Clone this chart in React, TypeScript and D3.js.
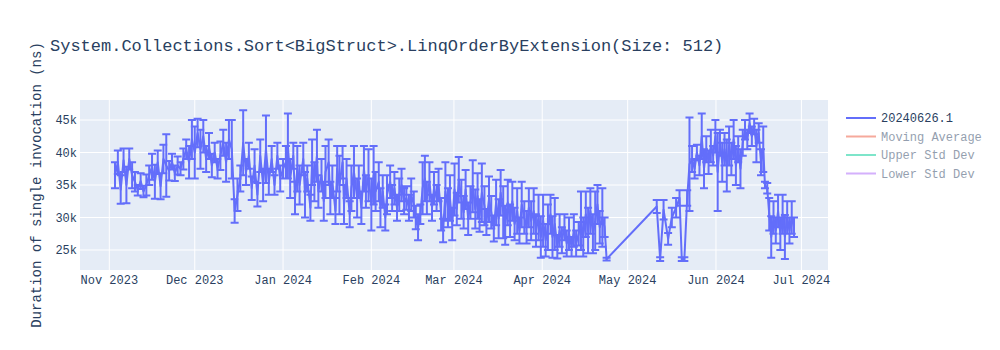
import React from "react";
import * as d3 from "d3";

// Days since 2023-11-01 for each benchmark run
const dayOffsets = [
  2, 3, 4, 5, 6, 7, 8,
  9, 10, 11, 12, 13,
  14, 15, 16, 17, 18, 19, 20,
  21, 22, 23, 24, 25, 26,
  27, 28, 29, 30, 31, 32, 33, 34,
  35, 36, 37, 38, 39, 40, 41, 42,
  43, 44, 45, 46, 47, 48,
  49, 50, 51, 52, 53, 54, 55, 56,
  57, 58, 59, 60, 61,
  // Jan
  62.0, 62.7, 63.5, 64.6, 65.2, 66.0, 66.8, 68.1, 68.7, 69.5, 70.6, 71.2,
  72.0, 72.9, 73.4, 74.5, 75.3, 75.9, 77.0, 77.6, 78.3, 79.4, 80.0, 80.8,
  81.9, 82.4, 83.3, 84.4, 85.0, 85.9, 87.0, 87.6, 88.5, 89.4, 90.1, 91.0,
  // Feb
  92.0, 92.8, 93.5, 94.6, 95.2, 96.0, 96.9, 97.5, 98.6, 99.3, 100.1, 101.0,
  101.8, 102.6, 103.5, 104.3, 105.2, 106.0, 106.9, 107.6, 108.4, 109.2, 110.0, 110.8,
  111.5, 112.4, 113.3, 114.0, 114.9, 115.6, 116.5, 117.2, 118.0, 118.9, 119.6, 120.4,
  // Mar
  121.2, 122.0, 122.7, 123.6, 124.4, 125.1, 126.0, 126.8, 127.6, 128.5, 129.3, 130.0,
  130.8, 131.7, 132.4, 133.3, 134.1, 135.0, 135.8, 136.7, 137.4, 138.3, 139.0, 139.9,
  140.7, 141.5, 142.3, 143.2, 144.0, 144.8, 145.7, 146.5, 147.3, 148.1, 149.0, 149.8,
  // Apr
  150.7, 151.5, 152.3, 153.2, 154.0, 154.9, 155.6, 156.4, 157.3, 158.1,
  158.9, 159.8, 160.6, 161.4, 162.3, 163.1, 163.9, 164.8, 165.6, 166.4,
  167.3, 168.1, 168.9, 169.8, 170.6, 171.4, 172.2, 173.1, 173.9, 174.6,
  // May
  192.2, 193.4, 194.6, 196.2, 197.5, 199.0, 200.2, 201.0, 201.9, 202.9, 203.7,
  // Jun
  204.6, 205.5, 206.3, 207.2, 208.0, 208.8, 209.6, 210.4, 211.2, 212.0,
  212.8, 213.6, 214.4, 215.2, 216.0, 216.8, 217.6, 218.4, 219.2, 220.0,
  220.8, 221.6, 222.4, 223.2, 224.0, 224.8, 225.6, 226.4, 227.2, 228.0,
  228.8, 229.6, 230.2, 231.0,
  231.7, 232.4, 233.2, 234.0, 234.8, 235.6, 236.4, 237.2, 238.0, 238.8, 239.6, 240.4,
];

// Mean duration (ns)
const durations = [
  36500, 38500, 34300, 38800, 35000, 39000, 36500,
  35500, 34200, 35600, 34000, 35000,
  36500, 37800, 35500, 38500, 34800, 39000, 38000,
  37200, 38600, 36800, 38000, 37500, 39000,
  40500, 38500, 42000, 40000, 43000, 40500, 42500, 39000,
  41000, 38000, 40000, 37500, 39500, 41500, 38500, 42000,
  40500, 31000, 33500, 36000, 41500, 37000,
  39500, 34500, 38000, 33500, 39500, 35000, 40500, 35500,
  39000, 35000, 39500, 36000, 37500,
  // Jan
  38500, 41000, 36000, 39500, 33000, 37500, 35000, 39000, 33500, 36000, 31500, 38500,
  35500, 39500, 34000, 36500, 32500, 37000, 38500, 33000, 35500, 31000, 37500, 35000,
  38500, 32000, 36000, 30500, 34500, 37000, 33000, 35500, 31500, 37500, 34000, 36500,
  // Feb
  32000, 36500, 34000, 35500, 31500, 34000, 30000, 33500, 35500, 33000, 34500, 31500,
  33500, 35000, 32500, 33000, 31500, 33500, 32000, 30000, 28500, 30500, 34500, 36000,
  33000, 35500, 31500, 34500, 33000, 35000, 30500, 28000, 34000, 31500, 33000, 29000,
  // Mar
  34300, 31300, 35800, 32800, 30800, 34300, 29800, 32300, 34800, 31300, 33300, 30300,
  33800, 31800, 29300, 32800, 30800, 28300, 32300, 29800, 33800, 30800, 28800, 32300,
  29500, 32500, 29000, 31000, 28000, 32000, 30000, 28500, 31500, 29500, 31000, 28000,
  // Apr
  30000, 27000, 29500, 26500, 28500, 30500, 27000, 29000, 25500, 28000,
  26500, 28500, 26000, 27500, 25500, 28000, 26000, 27500, 29500, 27000,
  30500, 28000, 31000, 27500, 29500, 32000, 28500, 30000, 28500, 23600,
  // May
  31700, 23600, 31200, 26700, 30000, 31500, 33000, 23600, 23600, 33000, 38200,
  // Jun
  39000, 37500, 40000, 38000, 42500, 37500, 40500, 38500, 41000, 39500,
  42500, 37000, 41500, 38500, 40500, 38000, 41000, 39000, 42000, 38000,
  40500, 37500, 41500, 43500, 42000, 44500, 42500, 44000, 41000, 43000,
  38500, 40500, 35000, 34500,
  30500, 27000, 30000, 28000, 31000, 27500, 30500, 27000, 30000, 28000, 30000, 28500,
];

// Standard deviation (ns), drawn as symmetric error bars
const errors = [
  2000, 1800, 2200, 1800, 2800, 1600, 2000,
  1500, 800, 1200, 900, 1600,
  1500, 2000, 2600, 1800, 2000, 2200, 4800,
  1500, 1200, 1200, 1400, 1000, 1600,
  1500, 2500, 3000, 4000, 2200, 3000, 2500, 2000,
  2000, 1800, 1500, 1500, 2200, 2000, 3000, 3000,
  4500, 1800, 2500, 2000, 5000, 2000,
  2000, 1800, 2500, 1800, 2500, 2500, 5200, 2000,
  2000, 1500, 2000, 2000, 1500,
  // Jan
  2500, 5000, 3000, 2000, 2500, 3500, 3000, 2500, 3500, 2000, 2000, 3500,
  3000, 4000, 2500, 2500, 3000, 4000, 3500, 2500, 2500, 2000, 3500, 4500,
  2500, 3000, 3000, 2000, 3500, 4000, 3000, 2500, 2500, 3500, 2500, 4000,
  // Feb
  4000, 4500, 3000, 3000, 3000, 2500, 2000, 3000, 2500, 2000, 2500, 2000,
  2500, 2500, 2000, 1800, 2000, 2500, 2000, 1800, 2000, 1500, 4000, 3500,
  2500, 3000, 2000, 2500, 2000, 2500, 2500, 1800, 4500, 3000, 3500, 2500,
  // Mar
  4000, 2500, 3500, 3000, 2500, 3000, 2500, 2500, 4000, 3000, 3500, 2500,
  4500, 3000, 2000, 3500, 2500, 2000, 3500, 3000, 3500, 4000, 3000, 3500,
  2500, 3000, 2500, 3500, 2000, 3500, 2500, 2500, 3000, 3000, 3500, 2500,
  // Apr
  3500, 3200, 4000, 2500, 3500, 3000, 3200, 4000, 1800, 2500,
  2000, 2000, 2000, 2500, 1500, 2500, 2000, 1800, 4500, 3000,
  3500, 3500, 3500, 3000, 4500, 3000, 2500, 4500, 1500, 200,
  // May
  1000, 300, 1500, 900, 1500, 1500, 1200, 300, 300, 1200, 7200,
  // Jun
  2000, 1500, 1200, 1500, 3500, 3000, 2000, 1800, 2500, 1500,
  2500, 6000, 2000, 3000, 2500, 4000, 3000, 2500, 3000, 3000,
  2000, 3000, 2000, 1500, 1500, 1500, 1500, 1200, 2500, 1500,
  2000, 3500, 500, 800,
  2500, 3200, 2500, 2000, 2500, 2500, 3000, 3400, 2500, 2000, 2500, 1500,
];

const yTicks = [25000, 30000, 35000, 40000, 45000];
const monthTicks = [
  "2023-11-01", "2023-12-01", "2024-01-01", "2024-02-01", "2024-03-01",
  "2024-04-01", "2024-05-01", "2024-06-01", "2024-07-01",
];
const legendNames = ["20240626.1", "Moving Average", "Upper Std Dev", "Lower Std Dev"];
const legendColors = ["#636efa", "#EF553B", "#00cc96", "#ab63fa"];
const legendShown = [true, false, false, false];

const titleText = "System.Collections.Sort<BigStruct>.LinqOrderByExtension(Size: 512)";
const yTitle = "Duration of single invocation (ns)";

const W = 1000;
const H = 350;
const M = { l: 80, r: 172, t: 100, b: 80 };
const FONT = "'Liberation Mono', 'Courier New', monospace";
const TEXT = "#2a3f5f";

const startMs = new Date(2023, 10, 1).getTime();
const DAY = 86400000;

export default function App() {
  const n = Math.min(dayOffsets.length, durations.length, errors.length);
  const pts = d3.range(n).map((i) => ({
    date: new Date(startMs + dayOffsets[i] * DAY),
    v: durations[i],
    e: errors[i],
  }));

  const x = d3
    .scaleTime()
    .domain([new Date(2023, 9, 21, 17), new Date(2024, 6, 10, 8)])
    .range([M.l, W - M.r]);
  const y = d3.scaleLinear().domain([21920, 48080]).range([H - M.b, M.t]);

  const line = d3
    .line<{ date: Date; v: number }>()
    .x((d) => x(d.date))
    .y((d) => y(d.v));

  const fmtY = d3.format("~s");
  const fmtX = d3.timeFormat("%b %Y");
  const months = monthTicks.map((s) => {
    const [yy, mm, dd] = s.split("-").map(Number);
    return new Date(yy, mm - 1, dd);
  });

  const capW = 4;
  const errPath = pts
    .map((p) => {
      const px = x(p.date);
      const y0 = y(p.v - p.e);
      const y1 = y(p.v + p.e);
      return `M${px},${y0}V${y1}M${px - capW},${y1}h${2 * capW}M${px - capW},${y0}h${2 * capW}`;
    })
    .join("");

  const legendX = 846;
  const legendY0 = 118;
  const legendStep = 18.5;

  return (
    <div style={{ position: "absolute", left: 0, top: 0 }}>
      <svg width={W} height={H} style={{ display: "block", background: "#fff" }} fontFamily={FONT}>
        <rect x={M.l} y={M.t} width={W - M.l - M.r} height={H - M.t - M.b} fill="#E5ECF6" />
        {months.map((d, i) => (
          <line key={"gx" + i} x1={x(d)} x2={x(d)} y1={M.t} y2={H - M.b} stroke="#fff" strokeWidth={1} />
        ))}
        {yTicks.map((t, i) => (
          <line key={"gy" + i} x1={M.l} x2={W - M.r} y1={y(t)} y2={y(t)} stroke="#fff" strokeWidth={1} />
        ))}
        <defs>
          <clipPath id="plotclip">
            <rect x={M.l} y={M.t} width={W - M.l - M.r} height={H - M.t - M.b} />
          </clipPath>
        </defs>
        <g clipPath="url(#plotclip)">
          <path d={errPath} stroke="#636efa" strokeWidth={2} fill="none" />
          <path d={line(pts) || ""} stroke="#636efa" strokeWidth={2} fill="none" strokeLinejoin="round" />
        </g>
        {yTicks.map((t, i) => (
          <text key={"ty" + i} x={M.l - 3} y={y(t)} dy="0.35em" textAnchor="end" fontSize={12} fill={TEXT}>
            {fmtY(t)}
          </text>
        ))}
        {months.map((d, i) => (
          <text key={"tx" + i} x={x(d)} y={H - M.b + 14} textAnchor="middle" fontSize={12} fill={TEXT}>
            {fmtX(d)}
          </text>
        ))}
        <text x={50} y={51} fontSize={17} fill={TEXT}>
          {titleText}
        </text>
        <text
          transform={`translate(36,${(M.t + H - M.b) / 2}) rotate(-90)`}
          textAnchor="middle"
          dy="0.35em"
          fontSize={14}
          fill={TEXT}
        >
          {yTitle}
        </text>
        {legendNames.map((name, i) => {
          const ly = legendY0 + i * legendStep;
          return (
            <g key={"lg" + i} opacity={legendShown[i] ? 1 : 0.5}>
              <line x1={legendX} x2={legendX + 30} y1={ly} y2={ly} stroke={legendColors[i]} strokeWidth={2} />
              <text x={legendX + 35} y={ly} dy="0.35em" fontSize={12} fill={TEXT}>
                {name}
              </text>
            </g>
          );
        })}
      </svg>
    </div>
  );
}
